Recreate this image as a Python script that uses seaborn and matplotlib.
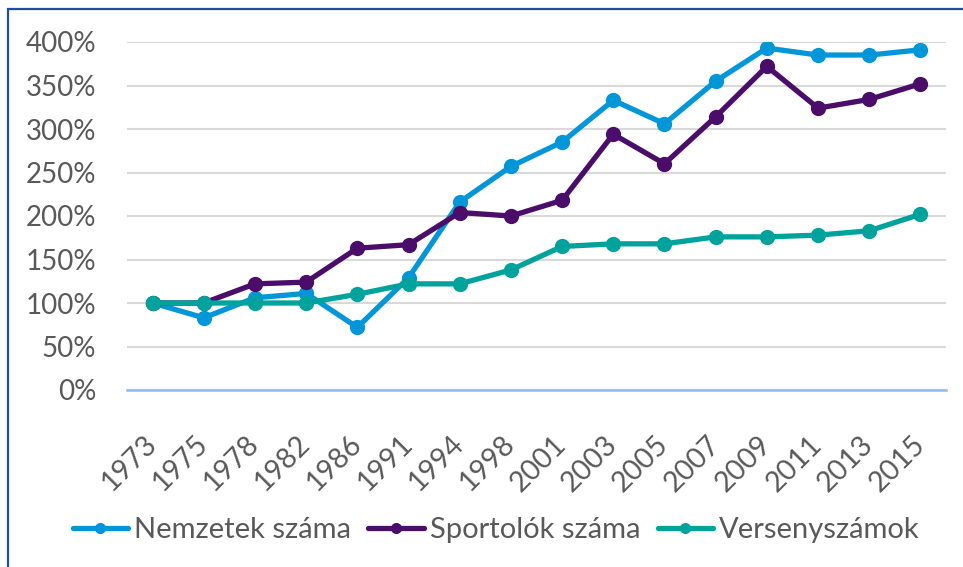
import matplotlib
matplotlib.use("Agg")
import matplotlib.pyplot as plt
import matplotlib.patches as mpatches
from matplotlib.ticker import FuncFormatter
import seaborn as sns
import pandas as pd

years = ["1973", "1975", "1978", "1982", "1986", "1991", "1994", "1998",
         "2001", "2003", "2005", "2007", "2009", "2011", "2013", "2015"]
nemzetek = [100, 83, 106, 111, 72, 129, 216, 257, 285, 333, 306, 355, 393, 385, 385, 391]
sportolok = [100, 100, 122, 124, 163, 167, 204, 200, 218, 294, 260, 314, 372, 324, 334, 352]
versenyszamok = [100, 100, 100, 100, 110, 122, 122, 138, 165, 168, 168, 176, 176, 178, 183, 202]
series_names = ["Nemzetek száma", "Sportolók száma", "Versenyszámok"]
colors = ["#0096D8", "#4A0D69", "#00A39C"]

rows = []
for name, vals in zip(series_names, [nemzetek, sportolok, versenyszamok]):
    for i, (y, v) in enumerate(zip(years, vals)):
        rows.append({"pos": i, "year": y, "value": v, "series": name})
df = pd.DataFrame(rows)

sns.set_style("white")
plt.rcParams["font.family"] = ["Lato", "DejaVu Sans"]
TXT = "#595959"

fig = plt.figure(figsize=(9.63, 5.67), dpi=100)
ax = fig.add_axes([127 / 963, 1 - 390 / 567, (946 - 127) / 963, (390 - 42) / 567])

sns.lineplot(data=df, x="pos", y="value", hue="series", hue_order=series_names,
             palette=colors, marker="o", markersize=11, markeredgewidth=0,
             linewidth=3.8, ax=ax, sort=False, legend=True)

ax.set_xlim(-0.5, len(years) - 0.5)
ax.set_ylim(0, 400)
ax.set_yticks(range(0, 401, 50))
ax.yaxis.set_major_formatter(FuncFormatter(lambda v, p: f"{int(v)}%"))
ax.set_xticks(range(len(years)))
ax.set_xticklabels(years, rotation=45, ha="right", va="center", rotation_mode="anchor")
ax.tick_params(axis="x", length=0, pad=36, labelsize=20.5, labelcolor=TXT)
ax.tick_params(axis="y", length=0, pad=22, labelsize=20, labelcolor=TXT)
for lab in ax.get_yticklabels():
    lab.set_horizontalalignment("right")
ax.grid(axis="y", color="#D9D9D9", linewidth=1.5)
ax.grid(axis="x", visible=False)
ax.set_axisbelow(True)
for s in ["top", "right", "left"]:
    ax.spines[s].set_visible(False)
ax.spines["bottom"].set_color("#8FBCEB")
ax.spines["bottom"].set_linewidth(1.8)
ax.set_xlabel("")
ax.set_ylabel("")

handles, labels = ax.get_legend_handles_labels()
leg = ax.legend(handles, labels, loc="center", bbox_to_anchor=(0.515, 1 - 530 / 567),
                bbox_transform=fig.transFigure, ncol=3, frameon=False, fontsize=21,
                handlelength=1.9, handletextpad=0.2, columnspacing=0.6, labelcolor=TXT)
for h in leg.legend_handles:
    h.set_markersize(8)
    h.set_linewidth(3.8)

rect = mpatches.Rectangle((8 / 963, -0.1), 1.2, 1.1 - 9 / 567, transform=fig.transFigure,
                          fill=False, edgecolor="#1F4E9A", linewidth=1.6)
fig.patches.append(rect)

fig.savefig("out.png", dpi=100)
